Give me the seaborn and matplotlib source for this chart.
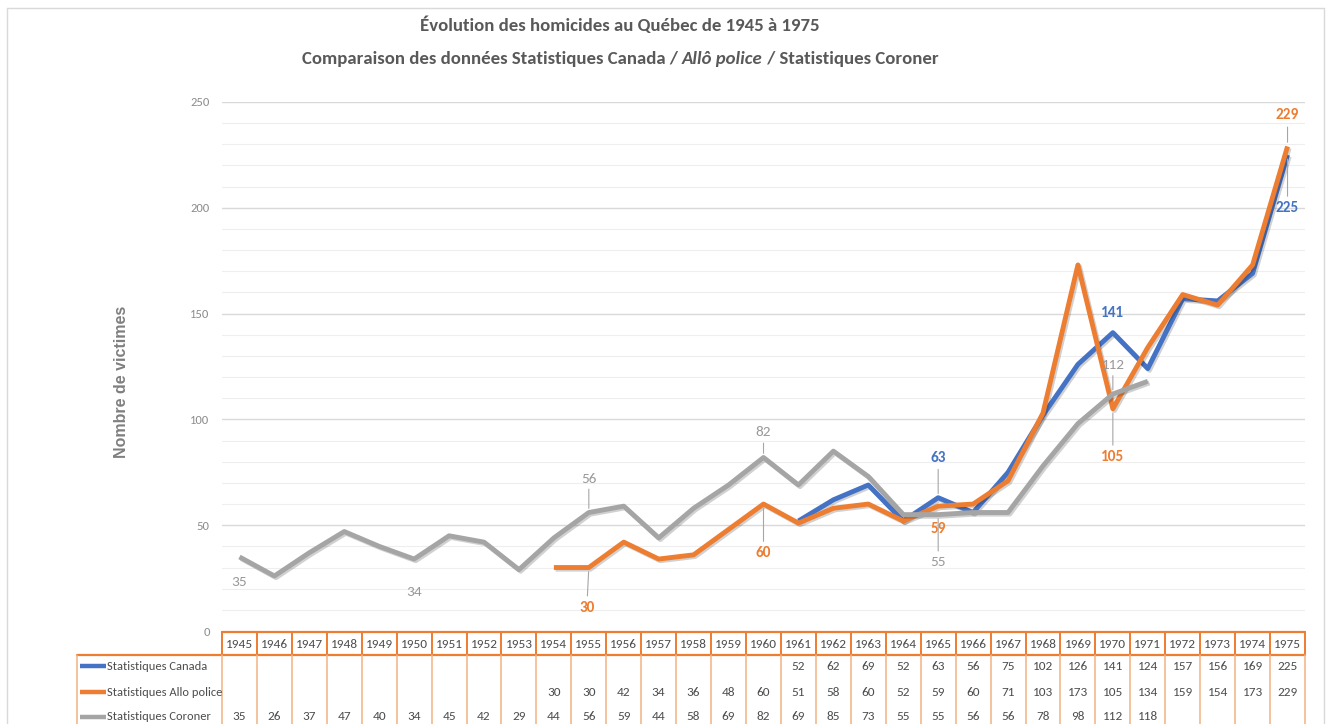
"""Évolution des homicides au Québec 1945-1975 (ligne + table de données)."""

import matplotlib
matplotlib.use("Agg")
import matplotlib.pyplot as plt
import matplotlib.patheffects as pe
from matplotlib.lines import Line2D
import numpy as np
import pandas as pd
import seaborn as sns

# ---- data -------------------------------------------------------------
years = list(range(1945, 1976))
canada = [np.nan] * 16 + [52, 62, 69, 52, 63, 56, 75, 102, 126, 141, 124,
                          157, 156, 169, 225]
allo_police = [np.nan] * 9 + [30, 30, 42, 34, 36, 48, 60, 51, 58, 60, 52, 59,
                              60, 71, 103, 173, 105, 134, 159, 154, 173, 229]
coroner = [35, 26, 37, 47, 40, 34, 45, 42, 29, 44, 56, 59, 44, 58, 69, 82, 69,
           85, 73, 55, 55, 56, 56, 78, 98, 112, 118] + [np.nan] * 4

series_names = ["Statistiques Canada", "Statistiques Allo police",
                "Statistiques Coroner"]
series_values = [canada, allo_police, coroner]
colors = ["#4472C4", "#ED7D31", "#A5A5A5"]

title_1 = "Évolution des homicides au Québec de 1945 à 1975"
title_2 = ["Comparaison des données Statistiques Canada / ", "Allô police",
           " / Statistiques Coroner"]
y_label = "Nombre de victimes"

# labelled points: (series index, year, label offset px (dx, dy), leader)
labels = [
    (2, 1945, 0, 25, False),
    (2, 1950, 0, 33, False),
    (2, 1955, 0, -34, True),
    (1, 1955, -2, 40, True),
    (2, 1960, 0, -25, True),
    (1, 1960, 0, 49, True),
    (0, 1965, 0, -40, True),
    (1, 1965, 0, 23, False),
    (2, 1965, 0, 47, True),
    (0, 1970, 0, -20, False),
    (2, 1970, 0, -29, True),
    (1, 1970, 0, 48, True),
    (1, 1975, 0, -31, True),
    (0, 1975, 0, 53, True),
]

# ---- layout (pixels) --------------------------------------------------
W, H = 1330, 724
PLOT_L, PLOT_R, PLOT_T, PLOT_B = 222, 1305, 102, 631
TABLE_L = 77
TXT = "#595959"
TAB_TXT = "#4D4D4D"

sns.set_theme(style="white")
plt.rcParams["font.family"] = ["Carlito", "DejaVu Sans"]

df = pd.DataFrame({
    "idx": np.tile(np.arange(len(years)), len(series_names)),
    "series": np.repeat(series_names, len(years)),
    "value": np.concatenate(series_values),
}).dropna()

fig = plt.figure(figsize=(W / 100, H / 100), dpi=100)
ax = fig.add_axes([PLOT_L / W, 1 - PLOT_B / H, (PLOT_R - PLOT_L) / W,
                   (PLOT_B - PLOT_T) / H])

# grid
for v in range(10, 251, 10):
    major = v % 50 == 0
    ax.axhline(v, color="#D9D9D9" if major else "#EEEEEE",
               lw=1.0 if major else 0.8, zorder=0)

sns.lineplot(data=df, x="idx", y="value", hue="series",
             hue_order=series_names, palette=colors, linewidth=3.5,
             legend=False, sort=False, ax=ax)
for line in ax.get_lines()[-3:]:
    line.set_solid_capstyle("butt")
    line.set_path_effects([pe.SimpleLineShadow(offset=(1.2, -1.2),
                                               alpha=0.2, shadow_color="k"),
                           pe.Normal()])

ax.set_xlim(-0.5, len(years) - 0.5)
ax.set_ylim(0, 250)
ax.set_yticks(range(0, 251, 50))
ax.set_xticks([])
ax.tick_params(axis="y", length=0, pad=9, labelsize=9, labelcolor="#8C8C8C")
ax.set_xlabel("")
ax.set_ylabel("")
for s in ax.spines.values():
    s.set_visible(False)

# data labels
for si, year, dx, dy, leader in labels:
    i = years.index(year)
    v = series_values[si][i]
    gray = si == 2
    ax.annotate(
        f"{v:.0f}", xy=(i, v), xytext=(dx * 0.72, -dy * 0.72),
        textcoords="offset points", ha="center", va="center",
        fontsize=11, color="#999999" if gray else colors[si],
        fontweight="normal" if gray else "bold",
        arrowprops=dict(arrowstyle="-", color="#A6A6A6", lw=0.8,
                        shrinkA=1, shrinkB=3) if leader else None,
        zorder=5,
    )

# ---- data table -------------------------------------------------------
colw = (PLOT_R - PLOT_L) / len(years)
x0 = -0.5 - (PLOT_L - TABLE_L) / colw
tab = fig.add_axes([TABLE_L / W, 0, (PLOT_R - TABLE_L) / W, (H - PLOT_B) / H])
tab.set_xlim(x0, len(years) - 0.5)
tab.set_ylim(H - PLOT_B, 0)
tab.axis("off")

ORANGE, LIGHT_OR = "#ED7D31", "#F4B183"
head_h = 24
row_y = [35, 61, 86]
n = len(years)
tab.plot([-0.5, n - 0.5], [1, 1], color=ORANGE, lw=1.6, clip_on=False)
tab.plot([x0, n - 0.5], [head_h, head_h], color=ORANGE, lw=1.6, clip_on=False)
for k in range(n + 1):
    tab.plot([k - 0.5, k - 0.5], [1, head_h], color=ORANGE, lw=1.4,
             clip_on=False)
    tab.plot([k - 0.5, k - 0.5], [head_h, H - PLOT_B], color=LIGHT_OR, lw=1.1,
             clip_on=False)
tab.plot([x0, x0], [head_h, H - PLOT_B], color=LIGHT_OR, lw=1.1, clip_on=False)

for i, y in enumerate(years):
    tab.text(i, head_h / 2 + 1, str(y), ha="center", va="center",
             fontsize=9.5, color=TAB_TXT)
for r, (name, vals, col) in enumerate(zip(series_names, series_values, colors)):
    yy = row_y[r]
    tab.plot([x0 + 0.08, x0 + 0.82], [yy, yy], color=col, lw=3.2,
             solid_capstyle="butt")
    tab.text(x0 + 0.85, yy, name, ha="left", va="center", fontsize=9,
             color=TAB_TXT)
    for i, v in enumerate(vals):
        if not np.isnan(v):
            tab.text(i, yy, f"{v:.0f}", ha="center", va="center",
                     fontsize=9.5, color=TAB_TXT)

# ---- titles and frame -------------------------------------------------
fig.text(620 / W, 1 - 25 / H, title_1, ha="center", va="center",
         fontsize=13.5, fontweight="bold", color=TXT)

renderer = fig.canvas.get_renderer()
parts = []
for j, t in enumerate(title_2):
    parts.append(fig.text(0, 1 - 59 / H, t, ha="left", va="center",
                          fontsize=13.5, fontweight="bold", color=TXT,
                          fontstyle="italic" if j == 1 else "normal"))
widths = [p.get_window_extent(renderer).width for p in parts]
xpos = 620 - sum(widths) / 2
for p, w in zip(parts, widths):
    p.set_x(xpos / W)
    xpos += w

fig.text(121 / W, 1 - 382 / H, y_label, rotation=90, ha="center",
         va="center", fontsize=11.5, fontweight="bold", color="#7F7F7F",
         family=["Liberation Sans", "DejaVu Sans"])

frame = "#D9D9D9"
fig.add_artist(Line2D([7 / W, 7 / W], [0, 1 - 8 / H], color=frame, lw=1))
fig.add_artist(Line2D([7 / W, 1324 / W], [1 - 8 / H, 1 - 8 / H],
                      color=frame, lw=1))
fig.add_artist(Line2D([1324 / W, 1324 / W], [0, 1 - 8 / H], color=frame, lw=1))

fig.savefig("out.png", dpi=100)
plt.close(fig)
